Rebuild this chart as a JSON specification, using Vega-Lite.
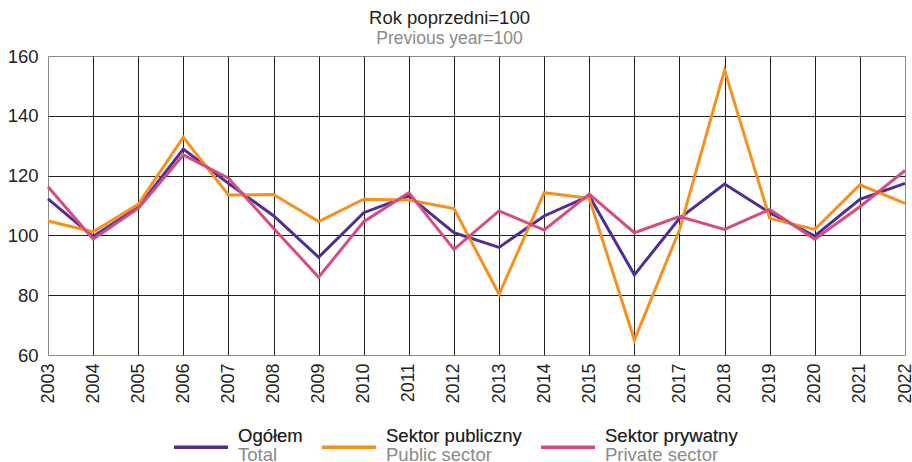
{
  "$schema": "https://vega.github.io/schema/vega-lite/v6.json",
  "width": 857,
  "height": 299,
  "padding": {"left": 7, "top": 9, "right": 0, "bottom": 0},
  "background": "white",
  "title": {
    "text": "Rok poprzedni=100",
    "subtitle": "Previous year=100",
    "anchor": "middle",
    "frame": "group",
    "dx": -27,
    "font": "Liberation Sans",
    "fontSize": 18.5,
    "fontWeight": "normal",
    "color": "#231F20",
    "subtitleFont": "Liberation Sans",
    "subtitleFontSize": 17.5,
    "subtitleColor": "#8A8A8A",
    "subtitlePadding": 2,
    "offset": 0
  },
  "data": {
    "values": [
      {"year": "2003", "series": "Ogółem", "en": "Total", "value": 112.2},
      {"year": "2004", "series": "Ogółem", "en": "Total", "value": 99.6},
      {"year": "2005", "series": "Ogółem", "en": "Total", "value": 109.4},
      {"year": "2006", "series": "Ogółem", "en": "Total", "value": 128.9},
      {"year": "2007", "series": "Ogółem", "en": "Total", "value": 117.4},
      {"year": "2008", "series": "Ogółem", "en": "Total", "value": 106.6},
      {"year": "2009", "series": "Ogółem", "en": "Total", "value": 92.7},
      {"year": "2010", "series": "Ogółem", "en": "Total", "value": 107.6},
      {"year": "2011", "series": "Ogółem", "en": "Total", "value": 113.2},
      {"year": "2012", "series": "Ogółem", "en": "Total", "value": 100.9},
      {"year": "2013", "series": "Ogółem", "en": "Total", "value": 96.0},
      {"year": "2014", "series": "Ogółem", "en": "Total", "value": 106.5},
      {"year": "2015", "series": "Ogółem", "en": "Total", "value": 113.2},
      {"year": "2016", "series": "Ogółem", "en": "Total", "value": 86.8},
      {"year": "2017", "series": "Ogółem", "en": "Total", "value": 105.7},
      {"year": "2018", "series": "Ogółem", "en": "Total", "value": 117.2},
      {"year": "2019", "series": "Ogółem", "en": "Total", "value": 107.6},
      {"year": "2020", "series": "Ogółem", "en": "Total", "value": 99.8},
      {"year": "2021", "series": "Ogółem", "en": "Total", "value": 112.1},
      {"year": "2022", "series": "Ogółem", "en": "Total", "value": 117.4},
      {"year": "2003", "series": "Sektor publiczny", "en": "Public sector", "value": 104.8},
      {"year": "2004", "series": "Sektor publiczny", "en": "Public sector", "value": 101.2},
      {"year": "2005", "series": "Sektor publiczny", "en": "Public sector", "value": 110.4},
      {"year": "2006", "series": "Sektor publiczny", "en": "Public sector", "value": 132.8},
      {"year": "2007", "series": "Sektor publiczny", "en": "Public sector", "value": 113.5},
      {"year": "2008", "series": "Sektor publiczny", "en": "Public sector", "value": 113.7},
      {"year": "2009", "series": "Sektor publiczny", "en": "Public sector", "value": 104.6},
      {"year": "2010", "series": "Sektor publiczny", "en": "Public sector", "value": 112.1},
      {"year": "2011", "series": "Sektor publiczny", "en": "Public sector", "value": 111.8},
      {"year": "2012", "series": "Sektor publiczny", "en": "Public sector", "value": 109.0},
      {"year": "2013", "series": "Sektor publiczny", "en": "Public sector", "value": 80.3},
      {"year": "2014", "series": "Sektor publiczny", "en": "Public sector", "value": 114.3},
      {"year": "2015", "series": "Sektor publiczny", "en": "Public sector", "value": 112.4},
      {"year": "2016", "series": "Sektor publiczny", "en": "Public sector", "value": 65.0},
      {"year": "2017", "series": "Sektor publiczny", "en": "Public sector", "value": 101.8},
      {"year": "2018", "series": "Sektor publiczny", "en": "Public sector", "value": 155.3},
      {"year": "2019", "series": "Sektor publiczny", "en": "Public sector", "value": 105.7},
      {"year": "2020", "series": "Sektor publiczny", "en": "Public sector", "value": 102.0},
      {"year": "2021", "series": "Sektor publiczny", "en": "Public sector", "value": 116.9},
      {"year": "2022", "series": "Sektor publiczny", "en": "Public sector", "value": 110.7},
      {"year": "2003", "series": "Sektor prywatny", "en": "Private sector", "value": 116.3},
      {"year": "2004", "series": "Sektor prywatny", "en": "Private sector", "value": 98.8},
      {"year": "2005", "series": "Sektor prywatny", "en": "Private sector", "value": 109.0},
      {"year": "2006", "series": "Sektor prywatny", "en": "Private sector", "value": 126.9},
      {"year": "2007", "series": "Sektor prywatny", "en": "Private sector", "value": 119.1},
      {"year": "2008", "series": "Sektor prywatny", "en": "Private sector", "value": 102.4},
      {"year": "2009", "series": "Sektor prywatny", "en": "Private sector", "value": 86.0},
      {"year": "2010", "series": "Sektor prywatny", "en": "Private sector", "value": 104.6},
      {"year": "2011", "series": "Sektor prywatny", "en": "Private sector", "value": 114.3},
      {"year": "2012", "series": "Sektor prywatny", "en": "Private sector", "value": 95.3},
      {"year": "2013", "series": "Sektor prywatny", "en": "Private sector", "value": 108.2},
      {"year": "2014", "series": "Sektor prywatny", "en": "Private sector", "value": 101.8},
      {"year": "2015", "series": "Sektor prywatny", "en": "Private sector", "value": 113.8},
      {"year": "2016", "series": "Sektor prywatny", "en": "Private sector", "value": 100.9},
      {"year": "2017", "series": "Sektor prywatny", "en": "Private sector", "value": 106.3},
      {"year": "2018", "series": "Sektor prywatny", "en": "Private sector", "value": 102.0},
      {"year": "2019", "series": "Sektor prywatny", "en": "Private sector", "value": 108.7},
      {"year": "2020", "series": "Sektor prywatny", "en": "Private sector", "value": 98.7},
      {"year": "2021", "series": "Sektor prywatny", "en": "Private sector", "value": 109.6},
      {"year": "2022", "series": "Sektor prywatny", "en": "Private sector", "value": 121.7}
    ]
  },
  "encoding": {
    "x": {
      "field": "year",
      "type": "ordinal",
      "scale": {"type": "point", "padding": 0},
      "axis": {
        "title": null,
        "labelAngle": -90,
        "labelFont": "Liberation Sans",
        "labelFontSize": 18,
        "labelColor": "#231F20",
        "labelPadding": 8,
        "ticks": false,
        "domain": false,
        "grid": true,
        "gridColor": "#222222",
        "gridOpacity": {"condition": {"test": "datum.value == '2003' || datum.value == '2022'", "value": 0}, "value": 1},
        "gridWidth": 1
      }
    },
    "y": {
      "field": "value",
      "type": "quantitative",
      "scale": {"domain": [60, 160], "nice": false, "zero": false},
      "axis": {
        "title": null,
        "values": [60, 80, 100, 120, 140, 160],
        "labelFont": "Liberation Sans",
        "labelFontSize": 18.5,
        "labelColor": "#231F20",
        "labelPadding": 10,
        "ticks": false,
        "domain": false,
        "grid": true,
        "gridColor": "#222222",
        "gridOpacity": {"condition": {"test": "datum.value == 60 || datum.value == 160", "value": 0}, "value": 1},
        "gridWidth": 1
      }
    }
  },
  "layer": [
    {
      "mark": {"type": "line", "strokeWidth": 3, "strokeJoin": "miter"},
      "encoding": {
        "color": {
          "field": "series",
          "type": "nominal",
          "sort": ["Ogółem", "Sektor publiczny", "Sektor prywatny"],
          "scale": {
            "domain": ["Ogółem", "Sektor publiczny", "Sektor prywatny"],
            "range": ["#4F2D96", "#F7901E", "#D64B80"]
          },
          "legend": {
            "title": null,
            "orient": "none",
            "legendX": 124,
            "legendY": 362,
            "direction": "horizontal",
            "padding": 0,
            "symbolType": "stroke",
            "symbolSize": 2916,
            "symbolStrokeWidth": 3.5,
            "symbolOpacity": 1,
            "labelFont": "Liberation Sans",
            "labelFontSize": 18.5,
            "labelColor": "#8A8A8A",
            "labelOffset": 8,
            "labelLimit": 300,
            "labelBaseline": "middle",
            "columnPadding": 12,
            "labelExpr": "datum.value == 'Ogółem' ? ['Ogółem', 'Total'] : datum.value == 'Sektor publiczny' ? ['Sektor publiczny', 'Public sector'] : ['Sektor prywatny', 'Private sector']",
            "encode": {
              "labels": {"update": {"dy": {"value": -11}, "lineHeight": {"value": 19}}}
            }
          }
        }
      }
    },
    {
      "mark": {"type": "line", "strokeWidth": 3, "opacity": 0},
      "encoding": {
        "strokeDash": {
          "field": "en",
          "type": "nominal",
          "sort": ["Total", "Public sector", "Private sector"],
          "scale": {
            "domain": ["Total", "Public sector", "Private sector"],
            "range": [[1, 0], [1, 0], [1, 0]]
          },
          "legend": {
            "title": null,
            "orient": "none",
            "legendX": 124,
            "legendY": 362,
            "direction": "horizontal",
            "padding": 0,
            "symbolType": "stroke",
            "symbolSize": 2916,
            "symbolStrokeWidth": 3.5,
            "symbolOpacity": 0.002,
            "symbolStrokeColor": "#000000",
            "labelFont": "Liberation Sans",
            "labelFontSize": 18.5,
            "labelColor": "#231F20",
            "labelOffset": 8,
            "labelLimit": 300,
            "labelBaseline": "middle",
            "columnPadding": 12,
            "labelExpr": "datum.value == 'Total' ? ['Ogółem', ''] : datum.value == 'Public sector' ? ['Sektor publiczny', ''] : ['Sektor prywatny', '']",
            "encode": {
              "labels": {"update": {"dy": {"value": -11}, "lineHeight": {"value": 19}}}
            }
          }
        }
      }
    }
  ],
  "config": {
    "view": {"stroke": "#8A8A8A", "strokeWidth": 1}
  }
}
